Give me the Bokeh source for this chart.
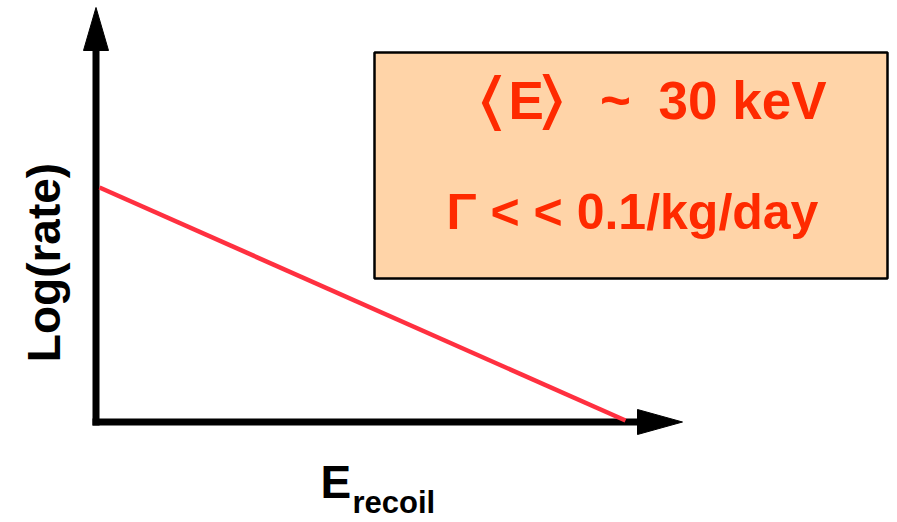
import math

from bokeh.embed import file_html
from bokeh.models import BoxAnnotation, Label, Range1d
from bokeh.plotting import figure
from bokeh.resources import INLINE

W, H = 897, 522

# Schematic recoil spectrum in arbitrary units: a straight fall on a log scale
energy = [0.0, 1.0]
log_rate = [1.0, 0.0]

# Texts
y_title = "Log(rate)"
x_title_main = "E"
x_title_sub = "recoil"
mean_energy_parts = ["\u2329", "E", "\u232a", "~", "30 keV"]
rate_limit = "\u0393 < < 0.1/kg/day"

# Layout: pixel position of the data origin and pixels per data unit
ORIGIN_PX = (99, 420)          # (from left, from top)
UNIT_PX = (526, 233)

FONT = "Liberation Sans"
RED_TEXT = "#FF2A00"
RED_LINE = "#FF3040"
BOX_FILL = "#FFD4A8"

# Labels are anchored a little below their requested point; shift them back
BASELINE_SHIFT = 0.41


def dx(px):
    return (px - ORIGIN_PX[0]) / UNIT_PX[0]


def dy(py):
    return (ORIGIN_PX[1] - py) / UNIT_PX[1]


p = figure(
    width=W, height=H,
    x_range=Range1d(dx(0), dx(W)), y_range=Range1d(dy(H), dy(0)),
    output_backend="svg", toolbar_location=None,
    min_border=0, outline_line_color=None,
    x_axis_type=None, y_axis_type=None,
    background_fill_color="white", border_fill_color="white",
)
p.grid.visible = False

# Hand-drawn style axes with solid arrow heads
AX_W = 7
v_x, v_bottom, v_head_base, v_tip = 95.5, 425, 50, 7
h_y, h_left, h_head_base, h_tip = 421.5, 92, 637, 682
HEAD_HALF = 12.5

p.segment(x0=[dx(v_x), dx(h_left)], y0=[dy(v_bottom), dy(h_y)],
          x1=[dx(v_x), dx(h_head_base + 1)], y1=[dy(v_head_base - 1), dy(h_y)],
          line_color="black", line_width=AX_W, line_cap="butt")

p.patches(
    xs=[[dx(v_x - HEAD_HALF), dx(v_x + HEAD_HALF), dx(v_x)],
        [dx(h_head_base), dx(h_head_base), dx(h_tip)]],
    ys=[[dy(v_head_base), dy(v_head_base), dy(v_tip)],
        [dy(h_y - HEAD_HALF), dy(h_y + HEAD_HALF), dy(h_y)]],
    fill_color="black", line_color="black", line_width=1,
)

# The spectrum itself
p.line(energy, log_rate, line_color=RED_LINE, line_width=4.5)


def label(px, py, text, size, color, align="left", angle=0.0):
    shift = BASELINE_SHIFT * size
    if angle:
        px = px - shift
    else:
        py = py - shift
    p.add_layout(Label(x=dx(px), y=dy(py), text=text, angle=angle,
                       text_align=align, text_baseline="alphabetic",
                       text_font=FONT, text_font_style="bold",
                       text_font_size=f"{size}px", text_color=color))


# Axis titles
label(62, 262, y_title, 46, "black", align="center", angle=math.pi / 2)
label(320, 500, x_title_main, 46, "black")
label(352, 515, x_title_sub, 31, "black")

# Info box
p.add_layout(BoxAnnotation(left=dx(374), right=dx(887), top=dy(52), bottom=dy(278),
                           fill_color=BOX_FILL, fill_alpha=1.0,
                           line_color="black", line_alpha=1.0, line_width=2.5))

line1_x = [491, 508, 552, 615, 658]
line1_align = ["center", "left", "center", "center", "left"]
line1_size = [62, 53, 62, 53, 53]
line1_base = [124, 122, 124, 122, 122]
for part, px, align, size, base in zip(mean_energy_parts, line1_x, line1_align,
                                       line1_size, line1_base):
    label(px, base, part, size, RED_TEXT, align=align)

label(446, 232, rate_limit, 50, RED_TEXT)

open("out.html", "w").write(file_html(p, INLINE))
